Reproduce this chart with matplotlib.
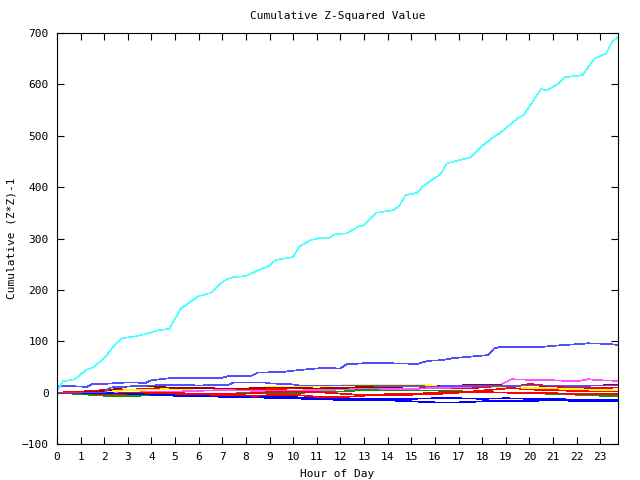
import matplotlib
matplotlib.use("Agg")
from matplotlib import pyplot as plt
import numpy as np

plt.rcParams['font.family'] = ['DejaVu Sans Mono']

# hourly grid used by the small series
hours = [0, 1, 2, 3, 4, 5, 6, 7, 8, 9, 10, 11, 12, 13, 14, 15, 16, 17, 18, 19, 20, 21, 22, 23, 23.75]

# big cyan series (own sampling)
cyan_h = [0, 0.25, 0.5, 0.75, 1.0, 1.25, 1.5, 2.0, 2.5, 2.75, 3.25, 3.75, 4.25, 4.75, 5.25, 5.5,
          6.0, 6.5, 7.0, 7.25, 7.5, 8.0, 8.5, 9.0, 9.25, 10.0, 10.25, 10.75, 11.25, 11.5, 11.75,
          12.25, 12.75, 13.0, 13.5, 14.25, 14.5, 14.75, 15.25, 15.5, 16.25, 16.5, 17.0, 17.5,
          18.0, 18.5, 18.75, 19.5, 19.75, 20.5, 20.75, 21.25, 21.5, 22.25, 22.75, 23.25, 23.5, 23.75]
cyan_v = [2, 22, 24, 26, 35, 45, 48, 67, 96, 106, 109, 114, 121, 124, 164, 172,
          188, 194, 215, 222, 225, 227, 238, 247, 258, 264, 284, 297, 302, 300, 308,
          310, 323, 326, 350, 355, 364, 384, 389, 402, 426, 446, 452, 458,
          480, 498, 505, 534, 540, 591, 588, 602, 614, 618, 650, 660, 683, 692]

# slate blue, upper
sb1_h = [0, 1.0, 1.25, 1.5, 2.0, 3.0, 3.75, 4.0, 4.75, 7.0, 7.25, 8.25, 8.5, 9.5, 10.25, 11.25,
         12.0, 12.25, 13.25, 15.25, 15.75, 16.25, 16.75, 18.0, 18.25, 18.5, 18.75, 20.5, 21.25,
         22.25, 22.5, 23.25, 23.75]
sb1_v = [13, 12, 11, 17, 17, 20, 19, 24, 28, 29, 32, 33, 39, 40, 44, 48,
         47, 55, 58, 56, 62, 63, 67, 72, 73, 86, 89, 89, 92,
         95, 96, 95, 93]

# slate blue, lower
sb2_h = [0, 2.0, 2.25, 3.0, 4.0, 5.0, 6.0, 7.25, 7.5, 8.75, 9.0, 10.0, 10.25, 12.0, 13.0, 14.0,
         16.0, 17.0, 18.0, 19.0, 20.0, 21.0, 22.0, 23.0, 23.75]
sb2_v = [0, 0, 10, 12, 14, 15, 14, 15, 20, 20, 18, 16, 14, 14, 14, 13,
         12, 13, 13, 13, 14, 14, 13, 14, 14]

# magenta (jumps near hour 19)
mag_h = [0, 2, 3, 5, 7, 9, 11, 12, 13, 14, 15, 16, 17, 18, 18.75, 19.25, 20, 21, 22, 22.5, 23, 23.75]
mag_v = [0, -2, 0, 2, 5, 3, 5, 6, 9, 7, 7, 9, 10, 13, 15, 26, 25, 24, 22, 26, 24, 23]

darkred = [0, 0, 3, 12, 12, 9, 9, 8, 8, 10, 10, 8, 9, 11, 11, 12, 12, 14, 15, 14, 14, 13, 13, 14, 15]
red1 = [0, 2, 5, 6, 7, 9, 9, 8, 7, 7, 8, 8, 10, 6, 6, 8, 9, 8, 10, 10, 6, 5, 3, 2, 2]
red2 = [0, -1, -2, -1, 0, -1, -2, -6, -7, -5, -4, -8, -9, -6, -3, -3, 0, 2, 1, 0, -1, -1, -3, -3, -3]
red3 = [0, -1, -3, -3, -2, -2, -3, -3, -2, 1, 2, 1, -2, -5, -5, -4, -3, 0, 4, 8, 17, 12, 10, 9, 10]
yellow = [0, 0, 2, 5, 6, 7, 8, 8, 8, 11, 12, 13, 14, 16, 16, 15, 14, 14, 12, 11, 9, 8, 7, 5, 4]
green = [0, -3, -6, -7, -5, -4, -3, -2, -1, -1, -1, 1, 2, 5, 5, 4, 4, 3, 0, 0, 0, -3, -4, -6, -7]
blue1 = [0, 0, 0, -1, -3, -4, -5, -6, -7, -8, -9, -10, -12, -13, -12, -12, -11, -11, -12, -11, -12, -12, -14, -14, -15]
blue2 = [0, 0, -1, -2, -4, -6, -7, -8, -9, -10, -11, -13, -14, -14, -15, -17, -19, -19, -17, -16, -16, -15, -16, -17, -17]

fig = plt.figure(figsize=(6.4, 4.8), dpi=100)
ax = fig.add_axes([57/640, 36/480, 561/640, 411/480])

kw = dict(lw=0.5, antialiased=False)
ax.plot(hours, red1, color='#ff0000', **kw)
ax.plot(hours, green, color='#00a000', **kw)
ax.plot(hours, blue1, color='#0000ff', **kw)
ax.plot(mag_h, mag_v, color='#ff50ff', **kw)
ax.plot(hours, red2, color='#ff0000', **kw)
ax.plot(hours, yellow, color='#ffff00', **kw)
ax.plot(hours, darkred, color='#a00000', **kw)
ax.plot(hours, red3, color='#ff0000', **kw)
ax.plot(hours, blue2, color='#0000ff', **kw)
ax.plot(sb2_h, sb2_v, color='#5050ff', **kw)
ax.plot(sb1_h, sb1_v, color='#5050ff', **kw)
ax.plot(cyan_h, cyan_v, color='#55ffff', **kw)

ax.set_xlim(0, 23.75)
ax.set_ylim(-100, 700)
ax.set_xticks(range(0, 24))
ax.set_yticks(range(-100, 701, 100))
ax.tick_params(direction='in', top=True, right=True, length=5, width=0.8, labelsize=8, pad=6)
for s in ax.spines.values():
    s.set_linewidth(0.8)

ax.set_title("Cumulative Z-Squared Value", fontsize=8, pad=10)
ax.set_xlabel("Hour of Day", fontsize=8, labelpad=5)
ax.set_ylabel("Cumulative (Z*Z)-1", fontsize=8, labelpad=4)

plt.savefig("out.png", dpi=100)
